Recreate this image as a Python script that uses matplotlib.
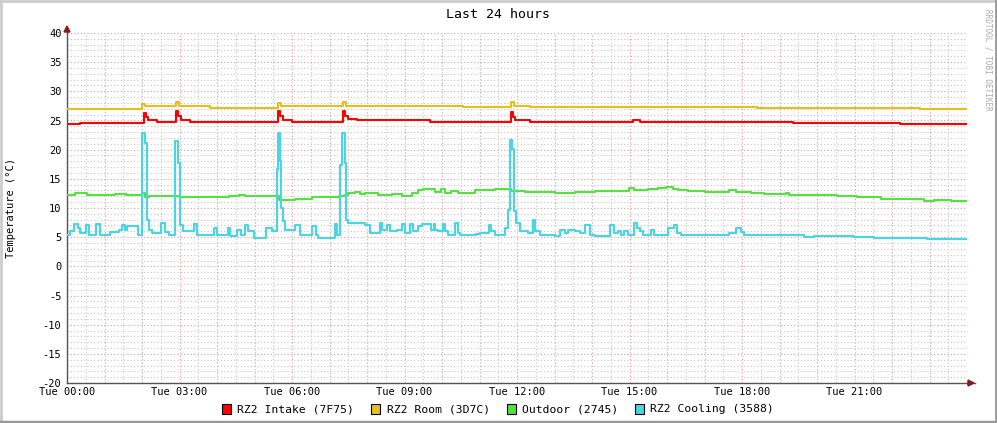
import matplotlib
matplotlib.use("Agg")
import matplotlib.pyplot as plt
from matplotlib.patches import Rectangle, Polygon
from matplotlib.ticker import MultipleLocator, FixedLocator

plt.rcParams["axes.unicode_minus"] = False

# ---------------- data (hours since Tue 00:00, degrees C) ----------------
intake_t = [0.00, 0.35, 2.05, 2.11, 2.16, 2.40, 2.91, 2.96, 3.04, 3.28,
            5.63, 5.68, 5.76, 6.00, 7.36, 7.41, 7.49, 7.73, 9.68,
            11.84, 11.89, 11.95, 12.35, 15.09, 15.28, 19.36, 22.21, 24.0]
intake_v = [24.4, 24.6, 26.3, 25.6, 25.1, 24.8, 26.6, 25.8, 25.1, 24.8,
            26.6, 25.7, 25.0, 24.7, 26.6, 25.7, 25.2, 25.0, 24.75,
            26.4, 25.6, 25.1, 24.75, 25.0, 24.75, 24.6, 24.35, 24.35]

room_t = [0.00, 2.00, 2.08, 2.91, 2.99, 3.81, 5.63, 5.71, 7.36, 7.44,
          10.56, 11.84, 11.92, 12.35, 18.40, 21.15, 22.75, 23.7, 24.0]
room_v = [27.0, 27.9, 27.4, 28.1, 27.4, 27.1, 28.0, 27.4, 28.1, 27.5,
          27.35, 28.1, 27.5, 27.3, 27.2, 27.1, 27.0, 26.9, 26.9]

outdoor_t = [0.00, 0.22, 0.53, 0.76, 1.11, 1.29, 1.56, 2.00, 2.09, 2.18,
             2.53, 2.98, 3.42, 4.31, 4.58, 4.75, 5.64, 5.77, 6.08, 6.52,
             7.24, 7.41, 7.50, 7.68, 7.81, 7.95, 8.30, 8.66, 8.92, 9.19,
             9.37, 9.50, 9.63, 9.80, 9.98, 10.07, 10.25, 10.43, 10.87, 11.41,
             11.85, 12.20, 13.01, 13.54, 14.07, 14.99, 15.13, 15.48, 15.75, 15.97,
             16.15, 16.29, 16.55, 17.00, 17.66, 17.84, 18.24, 18.59, 19.17, 19.26,
             20.54, 21.07, 21.70, 22.32, 22.85, 23.12, 23.57, 24.0]
outdoor_v = [12.2, 12.5, 12.2, 12.3, 12.2, 12.4, 12.2, 12.6, 11.8, 12.1,
             12.0, 11.9, 11.8, 12.05, 12.3, 12.0, 11.4, 11.3, 11.6, 11.8,
             12.0, 12.3, 12.5, 12.8, 12.4, 12.5, 12.3, 12.4, 12.1, 12.5,
             13.0, 13.2, 13.3, 12.8, 13.3, 12.6, 12.9, 12.6, 13.0, 13.3,
             12.9, 12.7, 12.5, 12.7, 12.9, 13.5, 13.1, 13.2, 13.5, 13.6,
             13.3, 13.1, 12.9, 12.8, 13.1, 12.7, 12.6, 12.4, 12.6, 12.3,
             12.0, 11.8, 11.5, 11.6, 11.2, 11.4, 11.2, 11.2]

cooling_t = [0.00, 0.08, 0.19, 0.29, 0.35, 0.51, 0.59, 0.77, 0.88, 1.15,
             1.39, 1.47, 1.55, 1.60, 1.89, 2.00, 2.08, 2.13, 2.19, 2.27,
             2.51, 2.61, 2.72, 2.88, 2.96, 3.01, 3.09, 3.39, 3.47, 3.92,
             4.00, 4.29, 4.35, 4.53, 4.64, 4.75, 4.83, 4.99, 5.31, 5.47,
             5.60, 5.63, 5.68, 5.71, 5.76, 5.81, 6.08, 6.21, 6.53, 6.64,
             6.69, 7.15, 7.20, 7.28, 7.33, 7.41, 7.44, 7.49, 7.81, 7.95,
             8.08, 8.35, 8.40, 8.53, 8.61, 8.80, 8.93, 9.01, 9.15, 9.23,
             9.36, 9.47, 9.71, 9.79, 9.81, 9.89, 10.03, 10.08, 10.16, 10.35,
             10.43, 10.48, 10.91, 11.01, 11.25, 11.31, 11.41, 11.68, 11.76, 11.81,
             11.87, 11.92, 11.97, 12.08, 12.29, 12.43, 12.48, 12.61, 13.01, 13.15,
             13.28, 13.36, 13.55, 13.68, 13.81, 13.95, 14.08, 14.48, 14.59, 14.69,
             14.77, 14.85, 14.96, 15.12, 15.20, 15.28, 15.36, 15.57, 15.65, 16.03,
             16.19, 16.27, 16.37, 17.65, 17.84, 17.97, 18.05, 19.65, 19.92, 20.99,
             21.52, 22.93, 23.31, 24.0]
cooling_v = [5.4, 6.0, 7.3, 6.6, 5.7, 7.1, 5.4, 7.3, 5.4, 5.9,
             6.3, 7.1, 6.3, 6.9, 5.4, 22.9, 21.2, 8.0, 6.3, 5.7,
             7.4, 5.9, 5.4, 21.4, 17.7, 7.1, 6.1, 7.3, 5.4, 6.6,
             5.4, 6.5, 5.15, 6.3, 5.4, 7.1, 6.1, 4.9, 6.5, 6.0,
             16.6, 22.9, 18.0, 10.0, 7.7, 6.3, 7.1, 5.4, 6.9, 5.4,
             4.85, 7.3, 5.4, 17.4, 22.9, 17.7, 8.0, 7.4, 7.5, 7.1,
             5.7, 7.4, 6.3, 7.1, 6.0, 6.3, 7.3, 5.7, 7.3, 6.1,
             6.9, 7.3, 6.3, 7.3, 6.3, 6.0, 7.3, 6.1, 5.4, 7.5,
             5.7, 5.4, 5.6, 5.7, 7.1, 6.0, 5.4, 6.6, 9.6, 21.7,
             20.1, 9.4, 7.4, 6.0, 5.7, 8.0, 6.0, 5.4, 5.15, 6.3,
             5.7, 6.3, 6.0, 5.7, 7.1, 5.4, 5.15, 7.1, 5.7, 6.0,
             5.3, 6.0, 5.4, 7.4, 6.6, 6.0, 5.4, 6.3, 5.4, 6.5,
             7.1, 5.7, 5.4, 5.7, 6.6, 5.9, 5.3, 5.1, 5.15, 5.0,
             4.85, 4.75, 4.7, 4.7]

series_names = ["RZ2 Intake (7F75)", "RZ2 Room (3D7C)", "Outdoor (2745)", "RZ2 Cooling (3588)"]
series_colors = ["#FF0000", "#E8BE1C", "#55E23E", "#47D6E6"]

x_tick_labels = ["Tue 00:00", "Tue 03:00", "Tue 06:00", "Tue 09:00",
                 "Tue 12:00", "Tue 15:00", "Tue 18:00", "Tue 21:00"]
x_tick_pos = [0, 3, 6, 9, 12, 15, 18, 21]
y_ticks = [-20, -15, -10, -5, 0, 5, 10, 15, 20, 25, 30, 35, 40]

# ---------------- figure ----------------
W, H = 997, 423
fig = plt.figure(figsize=(W / 100, H / 100), dpi=100)
fig.patch.set_facecolor("white")
mono = "DejaVu Sans Mono"

def fx(px):
    return px / W

def fy(py):
    return 1 - py / H

ax = fig.add_axes([fx(67), fy(383), fx(900), (383 - 33) / H])
ax.set_facecolor("white")
ax.set_xlim(0, 24)
ax.set_ylim(-20, 40)

# grid
ax.yaxis.set_major_locator(MultipleLocator(5))
ax.yaxis.set_minor_locator(MultipleLocator(1))
ax.set_xticks(x_tick_pos, labels=x_tick_labels)
ax.xaxis.set_minor_locator(FixedLocator([h * 0.5 for h in range(0, 49)]))
ax.grid(which="minor", color="#C8C8C8", linestyle=(0, (1, 2)), linewidth=0.8)
ax.grid(which="major", color="#EE9A9A", linestyle=(0, (1, 2)), linewidth=0.8)
ax.set_axisbelow(True)
for h in range(1, 24):
    if h % 3 != 0:
        ax.axvline(h, color="#EE9A9A", linestyle=(0, (1, 2)), linewidth=0.8, zorder=0.5)
ax.set_yticks(y_ticks)

ax.tick_params(axis="both", which="both", length=0)
ax.tick_params(axis="x", pad=3)
ax.tick_params(axis="y", pad=4)
for lab in ax.get_xticklabels() + ax.get_yticklabels():
    lab.set_fontfamily(mono)
    lab.set_fontsize(7.5)
    lab.set_color("#000000")

for sp in ["top", "right"]:
    ax.spines[sp].set_visible(False)
for sp in ["left", "bottom"]:
    ax.spines[sp].set_color("#555555")
    ax.spines[sp].set_linewidth(1.0)

# data
all_t = [intake_t, room_t, outdoor_t, cooling_t]
all_v = [intake_v, room_v, outdoor_v, cooling_v]
for t, v, c in zip(all_t, all_v, series_colors):
    ax.plot(t, v, drawstyle="steps-post", color=c, linewidth=1.5, zorder=3)

# axis arrows
ax.plot([24, 24.2], [-20, -20], color="#555555", linewidth=1.0, clip_on=False)
ax.plot([0, 0], [40, 40.6], color="#555555", linewidth=1.0, clip_on=False)
fig.add_artist(Polygon([[fx(968), fy(380)], [fx(968), fy(386)], [fx(974), fy(383)]],
                       closed=True, color="#8B1A1A", transform=fig.transFigure))
fig.add_artist(Polygon([[fx(64), fy(32)], [fx(70), fy(32)], [fx(67), fy(26)]],
                       closed=True, color="#8B1A1A", transform=fig.transFigure))

# texts
fig.text(fx(498), fy(14), "Last 24 hours", ha="center", va="center",
         fontfamily=mono, fontsize=9.5, color="#000000")
fig.text(fx(11), fy(208), "Temperature (°C)", ha="center", va="center",
         rotation=90, fontfamily=mono, fontsize=7.5, color="#000000")
fig.text(fx(988), fy(60), "RRDTOOL / TOBI OETIKER", ha="center", va="center",
         rotation=-90, fontfamily=mono, fontsize=5.5, color="#AAAAAA")

# legend
sq_x = [222, 371, 507, 635]
txt_x = [237, 387, 522, 650]
for name, c, sx, tx in zip(series_names, series_colors, sq_x, txt_x):
    fig.add_artist(Rectangle((fx(sx), fy(414)), fx(9), 10 / H, facecolor=c,
                             edgecolor="#000000", linewidth=0.8,
                             transform=fig.transFigure))
    fig.text(fx(tx), fy(409), name, ha="left", va="center",
             fontfamily=mono, fontsize=8.2, color="#000000")

# frame
fig.add_artist(plt.Line2D([0, 1], [fy(1), fy(1)], color="#CCCCCC", linewidth=2, transform=fig.transFigure))
fig.add_artist(plt.Line2D([fx(1), fx(1)], [0, 1], color="#CCCCCC", linewidth=2, transform=fig.transFigure))
fig.add_artist(plt.Line2D([0, 1], [fy(422), fy(422)], color="#999999", linewidth=2.5, transform=fig.transFigure))
fig.add_artist(plt.Line2D([fx(996), fx(996)], [0, 1], color="#999999", linewidth=2, transform=fig.transFigure))

fig.savefig("out.png", dpi=100, facecolor="white")
